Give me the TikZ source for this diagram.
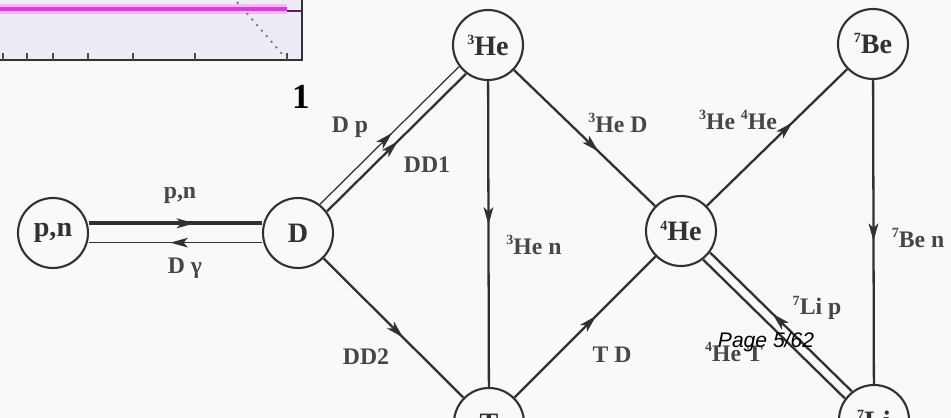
\documentclass[tikz,border=0pt]{standalone}
\usepackage{fontspec}
\setmainfont{Liberation Serif}
\newfontfamily\pagefont{Liberation Sans}
\usetikzlibrary{arrows.meta,decorations.markings}

\definecolor{ink}{RGB}{48,48,54}
\definecolor{paper}{RGB}{249,249,247}
\definecolor{plotbg}{RGB}{238,235,246}
\definecolor{plotline}{RGB}{226,58,218}

\newcommand\iso[2]{\raisebox{.85ex}{\fontsize{8}{8}\selectfont#1}#2}

\tikzset{
	nuc/.style={circle,draw=ink,line width=1.2pt,fill=paper,minimum size=1.4cm,inner sep=0pt,text=ink,font=\bfseries\fontsize{16}{16}\selectfont},
	lbl/.style={text=ink!90,inner sep=1pt,font=\bfseries\fontsize{13.5}{14}\selectfont},
	reac/.style={draw=ink,line width=1.3pt},
	weak/.style={draw=ink,line width=0.7pt},
	heavy/.style={draw=ink,line width=2.2pt},
	arrowpos/.style={postaction={decorate},decoration={markings,mark=at position #1 with {\arrow[ink]{>}}}},
}

\begin{document}
\begin{tikzpicture}[x=0.02cm,y=-0.02cm,>={Stealth[length=10pt,width=5.5pt,inset=2.5pt]}]
	%\draw[step=10,gray!15] (0,0) grid (951,418); %Hilfsgitter
	\fill[paper] (0,0) rectangle (951,418); \useasboundingbox (0,0) rectangle (951,418);
	
	% Rest des Plots oben links
	\fill[plotbg] (0,0) rectangle (302,60);
	\draw[plotline!35,line width=6pt] (0,9) -- (287,9); \draw[plotline,line width=2.2pt] (0,9) -- (287,9);
	\draw[black!55!plotline,line width=1.6pt] (287,11) -- (302,11);
	\draw[gray,line width=1.1pt,dash pattern=on 1.2pt off 3pt] (237,2) -- (283,55);
	\draw[black!80,line width=1.4pt] (302,0) -- (302,60) -- (0,60);
	\foreach \t in {3,27,53,88,133,195,287} \draw[black!70,line width=1pt] (\t,60) -- (\t,53);
	\node (one) at (301,97) {\bfseries\fontsize{20}{20}\selectfont 1};
	
	\node[nuc] (pn) at (53,233) {p,n}; \node[nuc] (D) at (298,233) {D};
	\node[nuc] (He3) at (488,45) {\iso{3}{He}}; \node[nuc] (He4) at (681,231) {\iso{4}{He}}; \node[nuc] (Be7) at (873,44) {\iso{7}{Be}};
	\node[nuc] (T) at (489,423) {T}; \node[nuc] (Li7) at (874,420) {\iso{7}{Li}};
	
	\draw[heavy,arrowpos=0.61,transform canvas={yshift=5.5pt}] (pn) -- (D); \draw[weak,arrowpos=0.53,transform canvas={yshift=-5.5pt}] (D) -- (pn);
	\draw[weak,arrowpos=0.52,transform canvas={xshift=-2pt,yshift=2pt}] (D) -- (He3); \draw[reac,arrowpos=0.51,transform canvas={xshift=2pt,yshift=-2pt}] (D) -- (He3);
	\draw[reac,arrowpos=0.47] (He3) -- (T); \draw[reac,arrowpos=0.6] (He3) -- (He4);
	\draw[reac,arrowpos=0.57] (D) -- (T); \draw[reac,arrowpos=0.58] (T) -- (He4);
	\draw[reac,arrowpos=0.61] (He4) -- (Be7); \draw[reac,arrowpos=0.53] (Be7) -- (Li7);
	\draw[reac,arrowpos=0.56,transform canvas={xshift=2pt,yshift=2pt}] (Li7) -- (He4); \draw[reac,transform canvas={xshift=-2pt,yshift=-2pt}] (He4) -- (Li7);
	
	\node[lbl] (lpn) at (180,195) {p,n}; \node[lbl] (lDg) at (185,268) {D γ};
	\node[lbl] (lDp) at (350,127) {D p}; \node[lbl] (lDD1) at (427,165) {DD1};
	\node[lbl] (lHen) at (534,245) {\iso{3}{He} n}; \node[lbl] (lHeD) at (618,123) {\iso{3}{He} D};
	\node[lbl] (lDD2) at (366,357) {DD2}; \node[lbl] (lTD) at (612,355) {T D};
	\node[lbl] (lHeHe) at (738,120) {\iso{3}{He} \iso{4}{He}}; \node[lbl] (lBen) at (918,238) {\iso{7}{Be} n};
	\node[lbl] (lLip) at (817,308) {\iso{7}{Li} p}; \node[lbl] (lHeT) at (734,352) {\iso{4}{He} T};
	
	\node (page) at (766,342) {\pagefont\itshape\fontsize{12}{12}\selectfont Page 5/62};
\end{tikzpicture}
\end{document}
